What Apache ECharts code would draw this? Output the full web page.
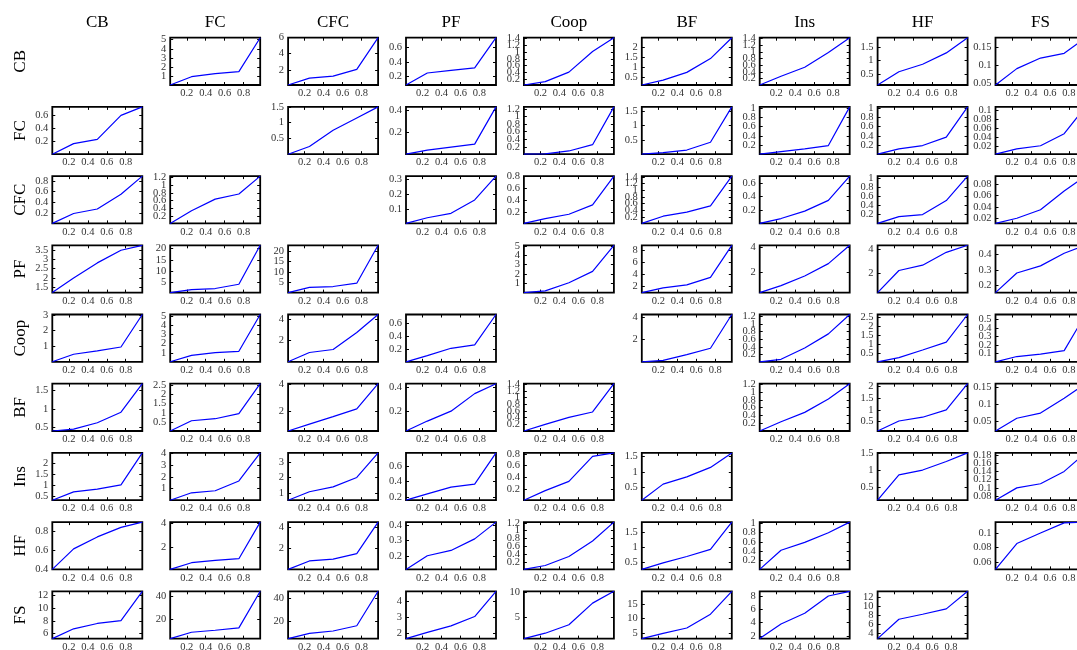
<!DOCTYPE html>
<html>
<head>
<meta charset="utf-8">
<script src="https://cdn.jsdelivr.net/npm/echarts@6/dist/echarts.min.js"></script>
<style>
  html, body { margin: 0; padding: 0; background: #fff; }
  #chart { width: 1077px; height: 650px; }
</style>
</head>
<body>
<div id="chart"></div>
<script>
// Pairwise quantile curves: row variable (left) against column variable (top).
const VARS = ['CB', 'FC', 'CFC', 'PF', 'Coop', 'BF', 'Ins', 'HF', 'FS'];
const QUANTILES = [0.025, 0.25, 0.5, 0.75, 0.975];
const X_TICKS = [0.2, 0.4, 0.6, 0.8];

// One entry per column variable; null on the diagonal.
const ROW_CB = [null,
  [0.03, 0.94, 1.28, 1.5, 5.22],
  [0.1, 0.95, 1.2, 2.05, 6.0],
  [0.085, 0.25, 0.285, 0.32, 0.735],
  [0.03, 0.13, 0.41, 1.02, 1.43],
  [0.1, 0.35, 0.74, 1.44, 2.5],
  [0.01, 0.27, 0.54, 0.98, 1.42],
  [0.12, 0.6, 0.87, 1.28, 1.83],
  [0.045, 0.09, 0.119, 0.132, 0.175]];
const ROW_FC = [
  [0.003, 0.165, 0.23, 0.6, 0.73],
  null,
  [0.005, 0.25, 0.76, 1.15, 1.5],
  [0.003, 0.04, 0.067, 0.094, 0.43],
  [0.005, 0.015, 0.09, 0.255, 1.25],
  [0.005, 0.06, 0.15, 0.42, 1.65],
  [0.004, 0.06, 0.12, 0.19, 1.02],
  [0.004, 0.12, 0.19, 0.37, 1.02],
  [0.002, 0.014, 0.021, 0.048, 0.108]];
const ROW_CFC = [
  [0.005, 0.19, 0.275, 0.55, 0.89],
  [0.03, 0.35, 0.64, 0.77, 1.22],
  null,
  [0.002, 0.04, 0.07, 0.16, 0.32],
  [0.004, 0.085, 0.16, 0.32, 0.81],
  [0.005, 0.22, 0.34, 0.53, 1.42],
  [0.003, 0.075, 0.185, 0.345, 0.705],
  [0.005, 0.155, 0.2, 0.51, 1.05],
  [0.011, 0.02, 0.035, 0.068, 0.094]];
const ROW_PF = [
  [1.19, 1.99, 2.81, 3.5, 3.77],
  [0.6, 1.9, 2.4, 4.3, 21.5],
  [0.1, 2.6, 3.0, 4.6, 22.7],
  null,
  [0.02, 0.21, 1.07, 2.28, 5.05],
  [0.9, 1.7, 2.2, 3.45, 8.8],
  [0.4, 0.96, 1.73, 2.72, 4.19],
  [0.4, 2.22, 2.66, 3.72, 4.3],
  [0.156, 0.28, 0.325, 0.405, 0.455]];
const ROW_COOP = [
  [0.01, 0.49, 0.7, 0.95, 3.02],
  [0.02, 0.73, 1.03, 1.17, 5.2],
  [0.02, 0.89, 1.17, 2.76, 4.45],
  [0.003, 0.1, 0.215, 0.268, 0.745],
  null,
  [0.02, 0.15, 0.66, 1.23, 4.25],
  [0.005, 0.07, 0.37, 0.74, 1.25],
  [0.01, 0.24, 0.67, 1.11, 2.65],
  [0.003, 0.065, 0.093, 0.135, 0.56]];
const ROW_BF = [
  [0.41, 0.46, 0.63, 0.91, 1.67],
  [0.01, 0.57, 0.68, 0.96, 2.59],
  [0.55, 1.05, 1.6, 2.17, 4.02],
  [0.036, 0.118, 0.2, 0.345, 0.427],
  [0.005, 0.2, 0.41, 0.57, 1.41],
  null,
  [0.005, 0.24, 0.48, 0.82, 1.21],
  [0.11, 0.53, 0.69, 1.0, 2.1],
  [0.023, 0.06, 0.075, 0.118, 0.16]];
const ROW_INS = [
  [0.3, 0.68, 0.8, 1.0, 2.45],
  [0.04, 0.66, 0.83, 1.65, 4.0],
  [0.52, 1.07, 1.39, 2.0, 3.6],
  [0.165, 0.245, 0.33, 0.37, 0.765],
  [0.006, 0.17, 0.33, 0.76, 0.82],
  [0.1, 0.61, 0.84, 1.14, 1.6],
  null,
  [0.12, 0.86, 1.0, 1.25, 1.5],
  [0.07, 0.1, 0.11, 0.14, 0.185]];
const ROW_HF = [
  [0.4, 0.615, 0.74, 0.84, 0.895],
  [0.19, 0.74, 0.93, 1.07, 4.08],
  [0.02, 0.82, 1.0, 1.52, 4.5],
  [0.115, 0.202, 0.236, 0.31, 0.417],
  [0.01, 0.11, 0.34, 0.735, 1.22],
  [0.25, 0.47, 0.69, 0.93, 1.86],
  [0.005, 0.42, 0.59, 0.8, 1.03],
  null,
  [0.05, 0.0855, 0.1, 0.114, 0.115]];
const ROW_FS = [
  [5.2, 6.75, 7.6, 8.05, 12.7],
  [2.4, 8.1, 9.9, 12, 44.8],
  [5.5, 10, 12, 16.5, 46],
  [1.66, 2.05, 2.47, 3.06, 4.66],
  [0.9, 1.95, 3.6, 7.8, 10.1],
  [3.2, 5.0, 6.8, 11.5, 19.3],
  [1.6, 3.8, 5.4, 8.0, 8.7],
  [2.8, 7.1, 8.2, 9.4, 13.3],
  null];

const ROWS = [ROW_CB, ROW_FC, ROW_CFC, ROW_PF, ROW_COOP, ROW_BF, ROW_INS, ROW_HF, ROW_FS];

// Spacing of the y tick labels in each panel.
const Y_TICK_STEP = [
  [null, 1, 2, 0.2, 0.2, 0.5, 0.2, 0.5, 0.05],
  [0.2, null, 0.5, 0.2, 0.2, 0.5, 0.2, 0.2, 0.02],
  [0.2, 0.2, null, 0.1, 0.2, 0.2, 0.2, 0.2, 0.02],
  [0.5, 5, 5, null, 1, 2, 2, 2, 0.1],
  [1, 1, 2, 0.2, null, 2, 0.2, 0.5, 0.1],
  [0.5, 0.5, 2, 0.2, 0.2, null, 0.2, 0.5, 0.05],
  [0.5, 1, 1, 0.2, 0.2, 0.5, null, 0.5, 0.02],
  [0.2, 2, 2, 0.1, 0.2, 0.5, 0.2, null, 0.02],
  [2, 20, 20, 1, 5, 5, 2, 2, null]];

const FONT = '"Liberation Serif", "Times New Roman", serif';
const GRID_LEFT0 = 52.3, GRID_DX = 117.9, GRID_W = 90;
const GRID_TOP0 = 37.7, GRID_DY = 69.2, GRID_H = 47.3;

function ticksFor(lo, hi, step) {
  const out = [];
  const k0 = Math.ceil(lo / step - 1e-9);
  for (let k = k0; k * step <= hi + 1e-9; k++) {
    out.push(Math.round(k * step * 1e6) / 1e6);
  }
  return out;
}

const grid = [], xAxis = [], yAxis = [], series = [], graphic = [];

const tickStyle = { inside: true, length: 3, lineStyle: { color: '#000', width: 1 } };
const labelStyle = { fontFamily: FONT, fontSize: 10.5, color: '#333', hideOverlap: false };

VARS.forEach((name, c) => {
  graphic.push({
    type: 'text', x: GRID_LEFT0 + GRID_DX * c + GRID_W / 2, y: 23,
    style: { text: name, font: '17px ' + FONT, fill: '#000', textAlign: 'center', textVerticalAlign: 'middle' }
  });
});
VARS.forEach((name, r) => {
  graphic.push({
    type: 'text', x: 21, y: GRID_TOP0 + GRID_DY * r + GRID_H / 2, rotation: Math.PI / 2,
    style: { text: name, font: '17px ' + FONT, fill: '#000', textAlign: 'center', textVerticalAlign: 'middle' }
  });
});

ROWS.forEach((row, r) => {
  row.forEach((vals, c) => {
    if (!vals) return;
    const g = grid.length;
    grid.push({
      left: GRID_LEFT0 + GRID_DX * c, top: GRID_TOP0 + GRID_DY * r,
      width: GRID_W, height: GRID_H,
      show: true, borderColor: '#000', borderWidth: 1.8, backgroundColor: '#fff',
      containLabel: false, outerBoundsMode: 'none'
    });
    const lo = Math.min.apply(null, vals), hi = Math.max.apply(null, vals);
    const yt = ticksFor(lo, hi, Y_TICK_STEP[r][c]);
    // Blank labels at the axis ends take the first/last slots, so the
    // end-label overlap rule never drops a real, tightly packed label.
    const shown = new Set(yt.map(String));
    const labelVals = yt.slice();
    if (yt[0] > lo + 1e-9) labelVals.unshift(lo);
    if (yt[yt.length - 1] < hi - 1e-9) labelVals.push(hi);
    const xBase = {
      gridIndex: g, type: 'value', min: QUANTILES[0], max: QUANTILES[QUANTILES.length - 1],
      axisLine: { show: false }, splitLine: { show: false }
    };
    xAxis.push(Object.assign({}, xBase, {
      position: 'bottom',
      axisTick: Object.assign({ customValues: X_TICKS }, tickStyle),
      axisLabel: Object.assign({ customValues: X_TICKS, margin: 3 }, labelStyle)
    }));
    xAxis.push(Object.assign({}, xBase, {
      position: 'top',
      axisTick: Object.assign({ customValues: X_TICKS }, tickStyle),
      axisLabel: { show: false }
    }));
    const yBase = {
      gridIndex: g, type: 'value', min: lo, max: hi, scale: true,
      axisLine: { show: false }, splitLine: { show: false }
    };
    yAxis.push(Object.assign({}, yBase, {
      position: 'left',
      axisTick: Object.assign({ customValues: yt }, tickStyle),
      axisLabel: Object.assign({
        customValues: labelVals, margin: 4,
        formatter: v => {
          const s = String(Math.round(v * 1e6) / 1e6);
          return shown.has(s) ? s : '';
        }
      }, labelStyle)
    }));
    yAxis.push(Object.assign({}, yBase, {
      position: 'right',
      axisTick: Object.assign({ customValues: yt }, tickStyle),
      axisLabel: { show: false }
    }));
    series.push({
      type: 'line', xAxisIndex: 2 * g, yAxisIndex: 2 * g,
      data: QUANTILES.map((q, i) => [q, vals[i]]),
      showSymbol: false, symbol: 'none', clip: true,
      lineStyle: { color: '#0000ff', width: 1.2 },
      silent: true
    });
  });
});

const chart = echarts.init(document.getElementById('chart'), null, { renderer: 'canvas' });
chart.setOption({
  backgroundColor: '#fff',
  animation: false,
  grid, xAxis, yAxis, series, graphic
});
</script>
</body>
</html>
